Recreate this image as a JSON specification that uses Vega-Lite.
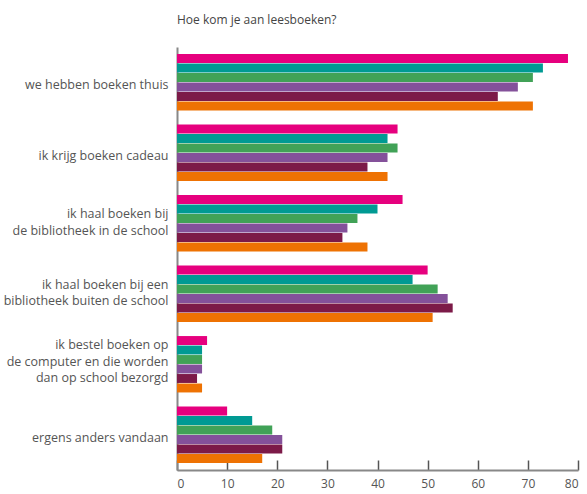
{
  "$schema": "https://vega.github.io/schema/vega-lite/v6.json",
  "width": 401,
  "height": 423,
  "autosize": "none",
  "padding": {"left": 177, "top": 47, "right": 9, "bottom": 24},
  "background": "white",
  "title": {
    "text": "Hoe kom je aan leesboeken?",
    "anchor": "start",
    "frame": "group",
    "font": "Open Sans",
    "fontSize": 12,
    "fontWeight": "normal",
    "color": "#444444",
    "offset": 20
  },
  "data": {
    "values": [
      {"cat": "we hebben boeken thuis", "serie": "1", "v": 78},
      {"cat": "we hebben boeken thuis", "serie": "2", "v": 73},
      {"cat": "we hebben boeken thuis", "serie": "3", "v": 71},
      {"cat": "we hebben boeken thuis", "serie": "4", "v": 68},
      {"cat": "we hebben boeken thuis", "serie": "5", "v": 64},
      {"cat": "we hebben boeken thuis", "serie": "6", "v": 71},
      {"cat": "ik krijg boeken cadeau", "serie": "1", "v": 44},
      {"cat": "ik krijg boeken cadeau", "serie": "2", "v": 42},
      {"cat": "ik krijg boeken cadeau", "serie": "3", "v": 44},
      {"cat": "ik krijg boeken cadeau", "serie": "4", "v": 42},
      {"cat": "ik krijg boeken cadeau", "serie": "5", "v": 38},
      {"cat": "ik krijg boeken cadeau", "serie": "6", "v": 42},
      {"cat": "ik haal boeken bij|de bibliotheek in de school", "serie": "1", "v": 45},
      {"cat": "ik haal boeken bij|de bibliotheek in de school", "serie": "2", "v": 40},
      {"cat": "ik haal boeken bij|de bibliotheek in de school", "serie": "3", "v": 36},
      {"cat": "ik haal boeken bij|de bibliotheek in de school", "serie": "4", "v": 34},
      {"cat": "ik haal boeken bij|de bibliotheek in de school", "serie": "5", "v": 33},
      {"cat": "ik haal boeken bij|de bibliotheek in de school", "serie": "6", "v": 38},
      {"cat": "ik haal boeken bij een|bibliotheek buiten de school", "serie": "1", "v": 50},
      {"cat": "ik haal boeken bij een|bibliotheek buiten de school", "serie": "2", "v": 47},
      {"cat": "ik haal boeken bij een|bibliotheek buiten de school", "serie": "3", "v": 52},
      {"cat": "ik haal boeken bij een|bibliotheek buiten de school", "serie": "4", "v": 54},
      {"cat": "ik haal boeken bij een|bibliotheek buiten de school", "serie": "5", "v": 55},
      {"cat": "ik haal boeken bij een|bibliotheek buiten de school", "serie": "6", "v": 51},
      {"cat": "ik bestel boeken op|de computer en die worden|dan op school bezorgd", "serie": "1", "v": 6},
      {"cat": "ik bestel boeken op|de computer en die worden|dan op school bezorgd", "serie": "2", "v": 5},
      {"cat": "ik bestel boeken op|de computer en die worden|dan op school bezorgd", "serie": "3", "v": 5},
      {"cat": "ik bestel boeken op|de computer en die worden|dan op school bezorgd", "serie": "4", "v": 5},
      {"cat": "ik bestel boeken op|de computer en die worden|dan op school bezorgd", "serie": "5", "v": 4},
      {"cat": "ik bestel boeken op|de computer en die worden|dan op school bezorgd", "serie": "6", "v": 5},
      {"cat": "ergens anders vandaan", "serie": "1", "v": 10},
      {"cat": "ergens anders vandaan", "serie": "2", "v": 15},
      {"cat": "ergens anders vandaan", "serie": "3", "v": 19},
      {"cat": "ergens anders vandaan", "serie": "4", "v": 21},
      {"cat": "ergens anders vandaan", "serie": "5", "v": 21},
      {"cat": "ergens anders vandaan", "serie": "6", "v": 17}
    ]
  },
  "mark": {"type": "bar"},
  "encoding": {
    "y": {
      "field": "cat",
      "type": "nominal",
      "sort": null,
      "scale": {"paddingInner": 0.2, "paddingOuter": 0.1},
      "axis": {
        "title": null,
        "ticks": false,
        "labelExpr": "split(datum.label, '|')",
        "labelFont": "Open Sans",
        "labelFontSize": 12.5,
        "labelColor": "#555555",
        "labelLineHeight": 16.5,
        "labelPadding": 9,
        "labelLimit": 200,
        "domainColor": "#888888",
        "domainWidth": 2,
        "labelOffset": {
          "condition": [
            {"test": "indexof(datum.value, 'computer') >= 0", "value": -19},
            {"test": "indexof(datum.value, '|') >= 0", "value": -9}
          ],
          "value": 3
        }
      }
    },
    "yOffset": {
      "field": "serie",
      "type": "nominal",
      "scale": {"paddingInner": 0.06, "paddingOuter": 0}
    },
    "x": {
      "field": "v",
      "type": "quantitative",
      "scale": {"domain": [0, 80], "nice": false},
      "axis": {
        "title": null,
        "values": [0, 10, 20, 30, 40, 50, 60, 70, 80],
        "grid": false,
        "tickSize": -10,
        "tickColor": "#555555",
        "tickWidth": 1.5,
        "labelPadding": 18,
        "labelFont": "Open Sans",
        "labelFontSize": 12,
        "labelColor": "#555555",
        "domainColor": "#888888",
        "domainWidth": 2
      }
    },
    "color": {
      "field": "serie",
      "type": "nominal",
      "legend": null,
      "scale": {
        "domain": ["1", "2", "3", "4", "5", "6"],
        "range": ["#E6007E", "#009A93", "#41A257", "#84519A", "#7C1A48", "#EE7203"]
      }
    }
  },
  "config": {"view": {"stroke": null}}
}
